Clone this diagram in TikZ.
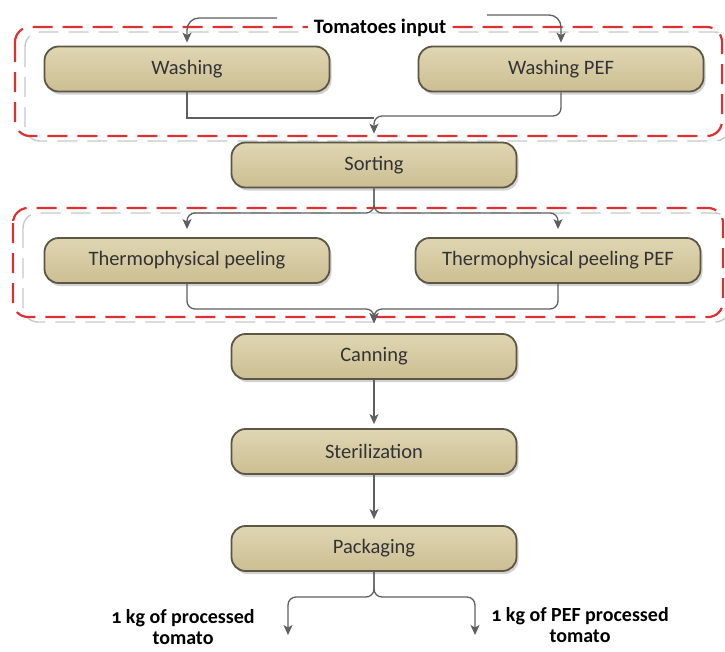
\documentclass[tikz,border=0pt]{standalone}
\usepackage{fontspec}
\setmainfont{Carlito}[Numbers=OldStyle]
\usetikzlibrary{positioning,arrows.meta,shadows}
\definecolor{boxtop}{RGB}{224,214,178}
\definecolor{boxbot}{RGB}{203,190,146}
\definecolor{boxline}{RGB}{92,86,70}
\definecolor{flowgray}{RGB}{95,95,95}
\definecolor{framered}{RGB}{222,48,48}

\begin{document}
\begin{tikzpicture}[x=1pt,y=-1pt,
  box/.style={draw=boxline,line width=1.8pt,rounded corners=14pt,top color=boxtop,bottom color=boxbot,
    minimum width=285pt,minimum height=45pt,font=\fontsize{20.5}{24}\selectfont,text=black!80,
    drop shadow={shadow xshift=2pt,shadow yshift=-3pt,fill=black!35,opacity=.5}},
  flow/.style={draw=flowgray,line width=1.3pt,-{Stealth[length=10pt,width=9pt,inset=2.5pt]}},
  link/.style={draw=flowgray,line width=1.3pt},
  redframe/.style={draw=framered,line width=2.2pt,dash pattern=on 20pt off 10pt,rounded corners=15pt},
  grayframe/.style={draw=black!22,line width=1.4pt,dash pattern=on 20pt off 10pt,rounded corners=15pt},
  outlabel/.style={font=\bfseries\fontsize{20}{21}\selectfont,align=center,inner sep=0pt}]
\useasboundingbox (0,0) rectangle (725,651);
\path[grayframe](25,32) rectangle (730,141);
\path[redframe](15,27) rectangle (722,136);
\path[grayframe](23,213) rectangle (730,322);
\path[redframe](13,208) rectangle (723,317);
\node[fill=white,inner xsep=6pt,inner ysep=1pt,font=\bfseries\fontsize{20.5}{22}\selectfont](title) at (380,28){Tomatoes input};
\node[box](wash) at (187,69){Washing};
\node[box](washpef) at (561,69){Washing PEF};
\node[box](sort) at (374,165){Sorting};
\node[box](peel) at (187,260.5){Thermophysical peeling};
\node[box](peelpef) at (558,260.5){Thermophysical peeling PEF};
\node[box](can) at (374,356.5){Canning};
\node[box](ster) at (374,451.5){Sterilization};
\node[box](pack) at (374,548.5){Packaging};
\coordinate(inL) at (277,18);
\coordinate(inR) at (487,15);
\coordinate(outL) at (288,635);
\coordinate(outR) at (475,635);
\path[flow,rounded corners=12pt,shorten >=3pt](inL)-|(wash.north);
\path[flow,rounded corners=12pt,shorten >=3pt](inR)-|(washpef.north);
\path[link](wash.south)|-(sort.north|-0,118);
\path[flow,rounded corners=8pt,shorten >=8pt](washpef.south)|-(sort.north|-0,116)--(sort.north);
\path[flow,rounded corners=8pt,shorten >=8pt](sort.south)|-(peel.north|-0,213)--(peel.north);
\path[flow,rounded corners=8pt,shorten >=8pt](sort.south)|-(peelpef.north|-0,213)--(peelpef.north);
\path[flow,rounded corners=8pt,shorten >=10pt](peel.south)|-(can.north|-0,309)--(can.north);
\path[flow,rounded corners=8pt,shorten >=10pt](peelpef.south)|-(can.north|-0,309)--(can.north);
\path[flow,shorten >=4pt](can)--(ster);
\path[flow,shorten >=6pt](ster)--(pack);
\path[flow,rounded corners=8pt](pack.south)|-(outL|-0,597)--(outL);
\path[flow,rounded corners=8pt](pack.south)|-(outR|-0,597)--(outR);
\node[outlabel](labL) at (183,627){1 kg of processed\\tomato};
\node[outlabel](labR) at (580,625){1 kg of PEF processed\\tomato};
\end{tikzpicture}
\end{document}
